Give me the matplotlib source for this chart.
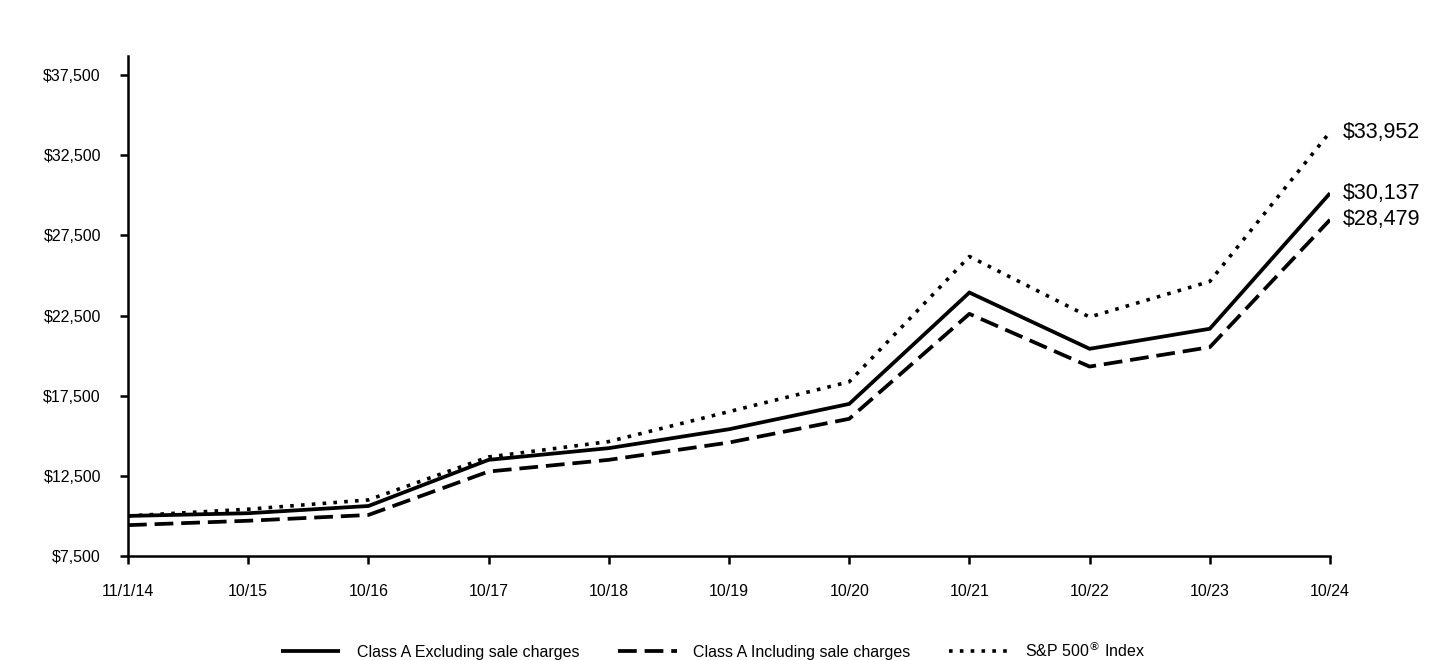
import matplotlib
matplotlib.use("Agg")
import matplotlib.pyplot as plt

plt.rcParams['font.family'] = ['Liberation Sans', 'DejaVu Sans']

dates = ["11/1/14", "10/15", "10/16", "10/17", "10/18", "10/19", "10/20",
         "10/21", "10/22", "10/23", "10/24"]
class_a_excl = [10000, 10170, 10620, 13500, 14230, 15410, 16990, 23940, 20430, 21680, 30137]
class_a_incl = [9425, 9700, 10060, 12770, 13500, 14580, 16060, 22610, 19320, 20530, 28479]
sp500 = [10000, 10420, 11000, 13680, 14640, 16510, 18370, 26190, 22410, 24630, 33952]
series_names = ["Class A Excluding sale charges", "Class A Including sale charges",
                "S&P 500$^{\u00ae}$ Index"]
yticks = [7500, 12500, 17500, 22500, 27500, 32500, 37500]

fig = plt.figure(figsize=(14.4, 6.6), dpi=100)
ax = fig.add_axes([128/1440, 1-556/660, (1330-128)/1440, (556-56)/660])

x = list(range(len(dates)))
l1, = ax.plot(x, class_a_excl, color='black', lw=2.7, solid_capstyle='butt',
              solid_joinstyle='miter', label=series_names[0])
l2, = ax.plot(x, class_a_incl, color='black', lw=2.7, linestyle=(0, (5.0, 2.1)),
              dash_capstyle='butt', label=series_names[1])
l3, = ax.plot(x, sp500, color='black', lw=2.6, linestyle=(0, (1, 2.0)),
              dash_capstyle='butt', label=series_names[2])

for vals in (sp500, class_a_excl, class_a_incl):
    ax.text(x[-1] + 0.11, vals[-1], "${:,}".format(vals[-1]), fontsize=15.5,
            va='center', ha='left')

ax.set_xlim(0, len(dates) - 1)
ax.set_ylim(7500, 38700)
ax.set_xticks(x)
ax.set_xticklabels(dates)
ax.set_yticks(yticks)
ax.set_yticklabels(["${:,}".format(v) for v in yticks])
for s in ('top', 'right'):
    ax.spines[s].set_visible(False)
for s in ('left', 'bottom'):
    ax.spines[s].set_linewidth(1.8)
ax.tick_params(axis='both', length=5.5, width=1.8, labelsize=11.5, direction='out')
ax.tick_params(axis='y', pad=14)
ax.tick_params(axis='x', pad=15)

fig.legend(handles=[l1, l2, l3], loc='center', bbox_to_anchor=(713/1440, 1-650/660),
           ncol=3, frameon=False, fontsize=11.5, handlelength=3.7, handletextpad=1.05,
           columnspacing=2.4)

fig.savefig("out.png", dpi=100)
